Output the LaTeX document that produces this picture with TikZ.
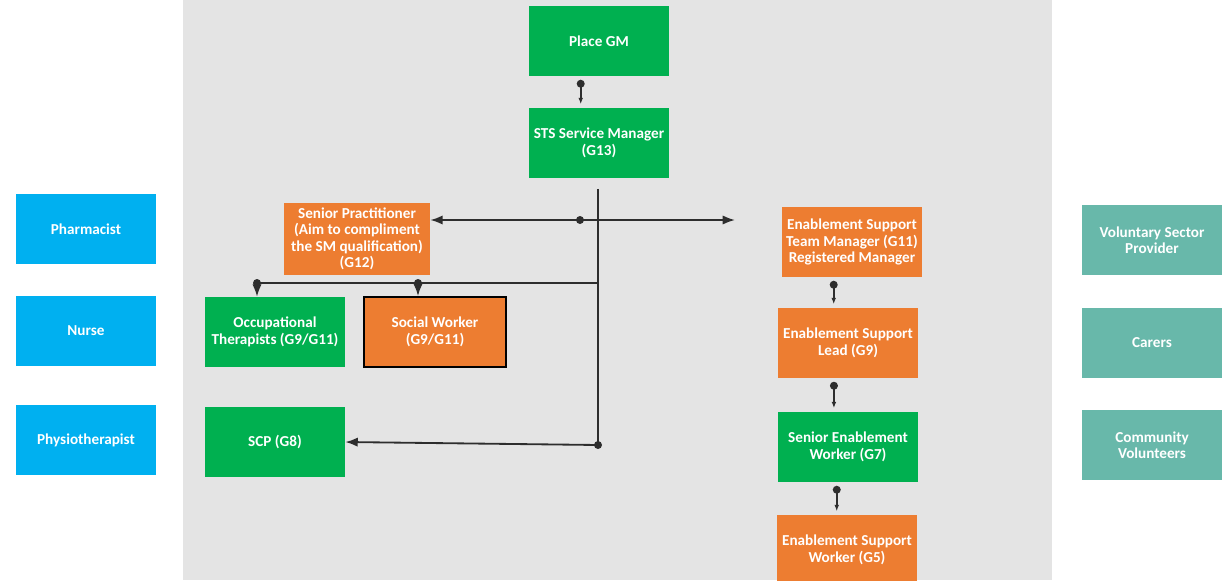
\documentclass[tikz,border=0pt]{standalone}
\usepackage{fontspec}
\setmainfont{Carlito}
\usepackage{tikz}
\usetikzlibrary{positioning,arrows.meta,calc}
\definecolor{leafgreen}{RGB}{0,176,80}
\definecolor{rustorange}{RGB}{237,125,49}
\definecolor{skyblue}{RGB}{0,176,240}
\definecolor{seateal}{RGB}{104,184,170}
\definecolor{paper}{RGB}{228,228,228}
\definecolor{ink}{RGB}{45,45,45}

\begin{document}
\begin{tikzpicture}[x=0.025cm,y=-0.025cm,>=Latex,
  box/.style={minimum width=3.5cm,minimum height=1.75cm,inner sep=1pt,align=center,
    text=white,font=\fontsize{10.8}{11.7}\selectfont\bfseries},
  link/.style={draw=ink,line width=1.3pt},
  tap/.style={link,{Circle[length=5.6pt]}-{Latex[length=4.5pt]},shorten <=2.5pt,shorten >=2.5pt}]
\useasboundingbox (0,0) rectangle (1232,580);
\fill[paper] (183,0) rectangle (1052,580);
% outside partners
\foreach \n/\y/\t in {ph/229/Pharmacist,nu/331/Nurse,pt/440/Physiotherapist}
  \node[box,fill=skyblue] (\n) at (86,\y) {\t};
\foreach \n/\y/\t in {vs/240/{Voluntary Sector\\Provider},ca/343/Carers,cv/445/{Community\\Volunteers}}
  \node[box,fill=seateal] (\n) at (1152,\y) {\t};
% management
\node[box,fill=leafgreen] (gm) at (599,41) {Place GM};
\node[box,fill=leafgreen] (sts) at (599,143) {STS Service Manager\\(G13)};
\node[box,fill=rustorange,minimum width=3.65cm,minimum height=1.8cm] (sp) at (357,239)
  {Senior Practitioner\\(Aim to compliment\\the SM qualification)\\(G12)};
\node[box,fill=leafgreen] (ot) at (275,332) {Occupational\\Therapists (G9/G11)};
\node[box,fill=rustorange,draw=black,line width=1.2pt,minimum width=3.55cm] (sw) at (435,332) {Social Worker\\(G9/G11)};
\node[box,fill=leafgreen] (scp) at (275,442) {SCP (G8)};
% enablement
\node[box,fill=rustorange] (tm) at (852,242) {Enablement Support\\Team Manager (G11)\\Registered Manager};
\node[box,fill=rustorange] (lead) at (848,343) {Enablement Support\\Lead (G9)};
\node[box,fill=leafgreen] (sew) at (848,447) {Senior Enablement\\Worker (G7)};
\node[box,fill=rustorange] (esw) at (847,550) {Enablement Support\\Worker (G5)};
% connectors
\coordinate (hub) at (598,445);
\coordinate (spTap) at (580,220);
\coordinate (tmEnd) at (735,220);
\coordinate (teamL) at (255,283);
\coordinate (otTap) at (257,283);
\coordinate (swTap) at (418,283);
\draw[tap] ([xshift=-13pt]gm.south) -- ([xshift=-13pt]sts.north);
\draw[link,shorten <=7.5pt] (sts.south -| hub) -- (hub);
\draw[link,->] (hub) -- (scp.east);
\fill[ink] (hub) circle (4);
\draw[link,<->] (sp.east |- spTap) -- (tmEnd);
\fill[ink] (spTap) circle (4);
\draw[link] (teamL) -- (teamL -| hub);
\foreach \c/\b in {otTap/ot,swTap/sw}{
  \draw[link,->] (\c) -- (\c |- \b.north);
  \fill[ink] (\c) circle (4);}
\draw[tap] ([xshift=-13pt]tm.south) -- ([xshift=-13pt]tm.south |- lead.north);
\draw[tap] ([xshift=-10pt]lead.south) -- ([xshift=-10pt]lead.south |- sew.north);
\draw[tap] ([xshift=-8pt]sew.south) -- ([xshift=-8pt]sew.south |- esw.north);
\end{tikzpicture}
\end{document}
